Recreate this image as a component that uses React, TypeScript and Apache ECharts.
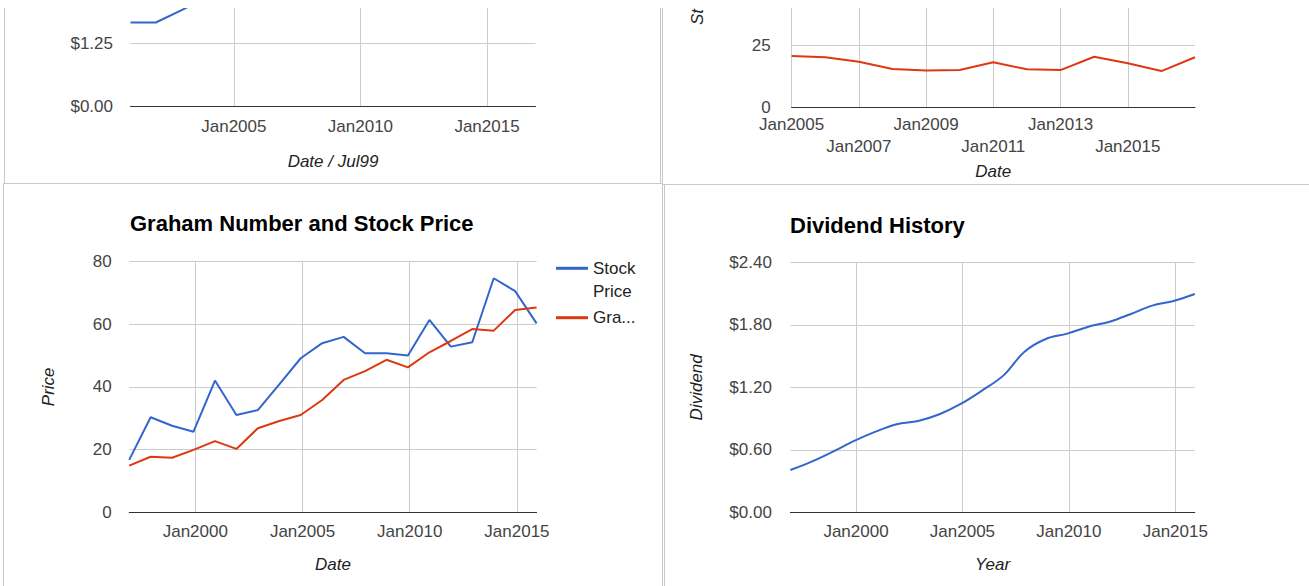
import React, { useEffect, useRef } from 'react';
import * as echarts from 'echarts';

// ---------- data ----------
const DEC = 11 / 12; // yearly points sit at December of each year

// top-left panel (only the lower part is visible)
const tlYears = [2000, 2001, 2002, 2003];
const tlValues = [1.66, 1.66, 1.9, 2.15];

// top-right panel
const peYears = [2005, 2006, 2007, 2008, 2009, 2010, 2011, 2012, 2013, 2014, 2015, 2016, 2017];
const peValues = [20.6, 20.1, 18.3, 15.4, 14.8, 15.0, 18.1, 15.3, 15.0, 20.3, 17.7, 14.6, 20.1];

// Graham Number and Stock Price
const gYears = [1996, 1997, 1998, 1999, 2000, 2001, 2002, 2003, 2004, 2005, 2006, 2007, 2008, 2009, 2010, 2011, 2012, 2013, 2014, 2015];
const stockPrice = [16.7, 30.3, 27.6, 25.7, 42.0, 31.0, 32.6, 40.8, 49.1, 53.9, 55.9, 50.7, 50.7, 50.0, 61.3, 52.8, 54.2, 74.6, 70.5, 60.2];
const grahamNumber = [14.9, 17.7, 17.4, 19.9, 22.7, 20.2, 26.8, 29.1, 31.0, 35.8, 42.2, 45.0, 48.6, 46.2, 51.0, 54.6, 58.4, 57.9, 64.5, 65.3];

// Dividend History
const divYears = [1996, 1997, 1998, 1999, 2000, 2001, 2002, 2003, 2004, 2005, 2006, 2007, 2008, 2009, 2010, 2011, 2012, 2013, 2014, 2015];
const dividends = [0.406, 0.486, 0.582, 0.685, 0.774, 0.845, 0.877, 0.941, 1.04, 1.168, 1.312, 1.542, 1.664, 1.715, 1.782, 1.83, 1.904, 1.984, 2.029, 2.096];

// ---------- styles ----------
const FONT = '"Liberation Sans", Arial, Helvetica, sans-serif';
const BLUE = '#3366cc';
const RED = '#dc3912';
const GRID_C = '#cccccc';
const BORDER_C = '#c8c8c8';
const tickText = { color: '#444', fontSize: 17, fontFamily: FONT };
const nameText = { color: '#222', fontSize: 17, fontStyle: 'italic' as const, fontFamily: FONT };

const yearLabel = (v: number) => (Math.abs(v - Math.round(v)) < 1e-6 ? 'Jan' + Math.round(v) : '');
const dollar = (v: number) => '$' + v.toFixed(2);

function xAxisBase(gridIndex: number) {
  return {
    type: 'value',
    gridIndex,
    axisLine: { show: true, onZero: false, lineStyle: { color: '#333', width: 1 } },
    axisTick: { show: false },
    splitLine: { show: true, showMinLine: false, showMaxLine: false, lineStyle: { color: GRID_C, width: 1 } },
    nameLocation: 'middle',
    nameTextStyle: nameText,
  };
}

function yAxisBase(gridIndex: number) {
  return {
    type: 'value',
    gridIndex,
    axisLine: { show: false },
    axisTick: { show: false },
    splitLine: { show: true, showMinLine: false, lineStyle: { color: GRID_C, width: 1 } },
    nameLocation: 'middle',
    nameTextStyle: nameText,
  };
}

function line(x1: number, y1: number, x2: number, y2: number) {
  return { type: 'line', z: 50, shape: { x1, y1, x2, y2 }, style: { stroke: BORDER_C, lineWidth: 1 } };
}

const legendBase = {
  itemWidth: 32,
  itemHeight: 3,
  icon: 'rect',
  padding: 0,
  selectedMode: false,
  textStyle: { color: '#222', fontSize: 17, fontFamily: FONT, lineHeight: 20 },
};

export default function App() {
  const ref = useRef<HTMLDivElement>(null);

  useEffect(() => {
    if (!ref.current) return;
    document.body.style.margin = '0';
    const chart = echarts.init(ref.current, undefined, { renderer: 'svg' });

    const option: any = {
      animation: false,
      title: [
        { text: 'Graham Number and Stock Price', left: 130, top: 212, padding: 0,
          textStyle: { fontSize: 22, fontWeight: 'bold', color: '#000', fontFamily: FONT } },
        { text: 'Dividend History', left: 790, top: 214, padding: 0,
          textStyle: { fontSize: 22, fontWeight: 'bold', color: '#000', fontFamily: FONT } },
      ],
      legend: [
        { ...legendBase, data: ['Stock Price'], left: 556, top: 258.3, formatter: () => 'Stock' },
        { ...legendBase, data: ['Graham Number'], left: 556, top: 307.7, formatter: () => 'Gra...' },
      ],
      grid: [
        { left: 130.5, top: -20.1, width: 405, height: 126.8, outerBoundsMode: 'none', containLabel: false },
        { left: 791.6, top: -17.7, width: 403.4, height: 125.4, outerBoundsMode: 'none', containLabel: false },
        { left: 129.2, top: 261.3, width: 407.4, height: 251, outerBoundsMode: 'none', containLabel: false },
        { left: 790.4, top: 262.3, width: 404.4, height: 250, outerBoundsMode: 'none', containLabel: false },
      ],
      xAxis: [
        { ...xAxisBase(0), min: 2000 + DEC, max: 2016 + DEC, splitNumber: 3,
          name: 'Date / Jul99', nameGap: 46,
          axisLabel: { ...tickText, margin: 11, showMinLabel: false, showMaxLabel: false, formatter: yearLabel } },
        { ...xAxisBase(1), min: 0, max: 12, interval: 2,
          splitLine: { show: true, showMinLine: true, showMaxLine: false, lineStyle: { color: GRID_C, width: 1 } },
          name: 'Date', nameGap: 55,
          axisLabel: { ...tickText, margin: 6, lineHeight: 22, showMaxLabel: false,
            formatter: (v: number) => {
              const label = 'Jan' + (2005 + Math.round(v));
              return Math.round(v / 2) % 2 === 1 ? '\n' + label : label;
            } } },
        { ...xAxisBase(2), min: 1996 + DEC, max: 2015 + DEC, splitNumber: 4,
          name: 'Date', nameGap: 44,
          axisLabel: { ...tickText, margin: 11, showMinLabel: false, showMaxLabel: false, formatter: yearLabel } },
        { ...xAxisBase(3), min: 1996 + DEC, max: 2015 + DEC, splitNumber: 4,
          name: 'Year', nameGap: 44,
          axisLabel: { ...tickText, margin: 11, showMinLabel: false, showMaxLabel: false, formatter: yearLabel } },
      ],
      yAxis: [
        { ...yAxisBase(0), min: 0, max: 2.5, interval: 1.25,
          axisLabel: { ...tickText, margin: 17.5, showMaxLabel: false, formatter: dollar } },
        { ...yAxisBase(1), min: 0, max: 50, interval: 25,
          axisLabel: { ...tickText, margin: 21, showMaxLabel: false } },
        { ...yAxisBase(2), min: 0, max: 80, interval: 20, name: 'Price', nameGap: 72,
          axisLabel: { ...tickText, margin: 17.5 } },
        { ...yAxisBase(3), min: 0, max: 2.4, interval: 0.6, name: 'Dividend', nameGap: 85,
          axisLabel: { ...tickText, margin: 18.5, formatter: dollar } },
      ],
      series: [
        { type: 'line', xAxisIndex: 0, yAxisIndex: 0, symbol: 'none', color: BLUE,
          lineStyle: { width: 2, color: BLUE },
          data: tlYears.map((y, i) => [y + DEC, tlValues[i]]) },
        { type: 'line', xAxisIndex: 1, yAxisIndex: 1, symbol: 'none', color: RED,
          lineStyle: { width: 2, color: RED },
          data: peYears.map((y, i) => [y - 2005, peValues[i]]) },
        { type: 'line', name: 'Stock Price', xAxisIndex: 2, yAxisIndex: 2, symbol: 'none', color: BLUE,
          lineStyle: { width: 2, color: BLUE },
          data: gYears.map((y, i) => [y + DEC, stockPrice[i]]) },
        { type: 'line', name: 'Graham Number', xAxisIndex: 2, yAxisIndex: 2, symbol: 'none', color: RED,
          lineStyle: { width: 2, color: RED },
          data: gYears.map((y, i) => [y + DEC, grahamNumber[i]]) },
        { type: 'line', name: 'Dividend', xAxisIndex: 3, yAxisIndex: 3, symbol: 'none', color: BLUE,
          smooth: 0.35, lineStyle: { width: 2, color: BLUE },
          data: divYears.map((y, i) => [y + DEC, dividends[i]]) },
      ],
      graphic: [
        // panel frames
        line(4.5, 8, 4.5, 183.5),
        line(3.5, 183.5, 3.5, 586),
        line(3, 183.5, 662, 183.5),
        line(663, 184.5, 1309, 184.5),
        line(660.5, 8, 660.5, 183.5),
        line(662.5, 8, 662.5, 586),
        line(664.5, 184.5, 664.5, 586),
        // second legend line of "Stock Price"
        { type: 'text', z: 60, x: 593, y: 291,
          style: { text: 'Price', fill: '#222', font: '17px ' + FONT, textAlign: 'left', textVerticalAlign: 'middle' } },
        // top-right y-axis title (mostly cut off at the top)
        { type: 'text', z: 60, x: 697, y: 25, rotation: Math.PI / 2,
          style: { text: 'St', fill: '#222', font: 'italic 17px ' + FONT, textAlign: 'left', textVerticalAlign: 'middle' } },
        // white strip hiding the clipped top of the page
        { type: 'rect', z: 100, shape: { x: 0, y: 0, width: 1309, height: 8 }, style: { fill: '#fff' } },
      ],
    };

    chart.setOption(option);
    return () => chart.dispose();
  }, []);

  return <div ref={ref} style={{ position: 'fixed', left: 0, top: 0, width: 1309, height: 586, background: '#fff' }} />;
}
